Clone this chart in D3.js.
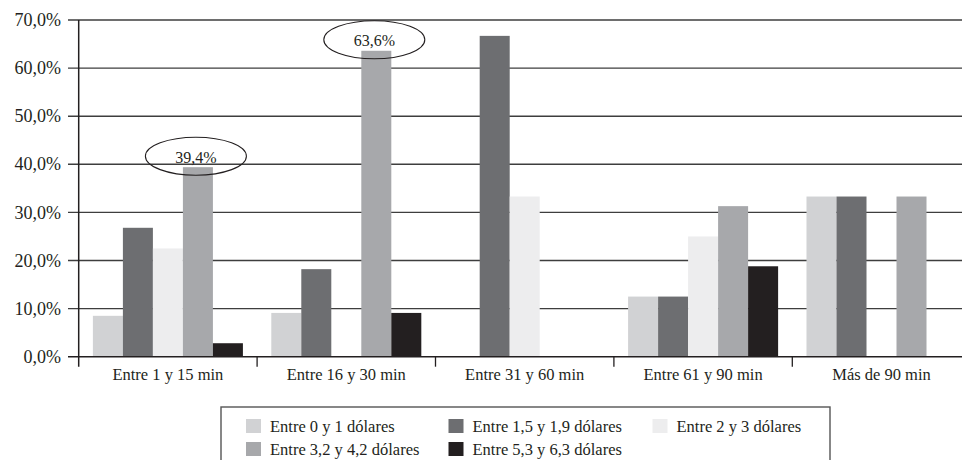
<!DOCTYPE html>
<html>
<head>
<meta charset="utf-8">
<script src="https://cdn.jsdelivr.net/npm/d3@7"></script>
<style>
  html, body { margin: 0; padding: 0; background: #fff; }
  svg { display: block; }
  svg text { font-family: 'Liberation Serif', 'DejaVu Serif', 'Times New Roman', serif; }
</style>
</head>
<body>
<svg id="chart" width="962" height="460" font-family="'Liberation Serif', 'DejaVu Serif', serif"></svg>
<script>
// Travel-time groups (x axis)
const categories = ["Entre 1 y 15 min", "Entre 16 y 30 min", "Entre 31 y 60 min", "Entre 61 y 90 min", "Más de 90 min"];
// Fare groups (series)
const seriesNames = ["Entre 0 y 1 dólares", "Entre 1,5 y 1,9 dólares", "Entre 2 y 3 dólares", "Entre 3,2 y 4,2 dólares", "Entre 5,3 y 6,3 dólares"];
const seriesColors = ["#d1d2d4", "#6d6e71", "#ededee", "#a7a8ab", "#231f20"];
// Percentages per fare group, one value per travel-time group
const fare0to1   = [8.5, 9.1, 0, 12.5, 33.3];
const fare15to19 = [26.8, 18.2, 66.7, 12.5, 33.3];
const fare2to3   = [22.5, 0, 33.3, 25.0, 0];
const fare32to42 = [39.4, 63.6, 0, 31.3, 33.3];
const fare53to63 = [2.8, 9.1, 0, 18.8, 0];
const seriesValues = [fare0to1, fare15to19, fare2to3, fare32to42, fare53to63];
// Y axis ticks
const yTicks = [0, 10, 20, 30, 40, 50, 60, 70];
// Highlighted bars: [category index, series index]
const highlights = [[0, 3], [1, 3]];

const FONT = "'Liberation Serif', 'DejaVu Serif', serif";
const fmt = v => d3.format(".1f")(v).replace(".", ",") + "%";

const svg = d3.select("#chart");
const x0 = d3.scaleBand().domain(categories).range([78.7, 970.7]).paddingInner(0).paddingOuter(0);
const x1 = d3.scaleBand().domain(seriesNames).range([0, x0.bandwidth()]).paddingInner(0).paddingOuter(0.473);
const y = d3.scaleLinear().domain([0, 70]).range([356.7, 20]);

// Horizontal gridlines
svg.append("g").selectAll("line").data(yTicks.filter(t => t > 0)).join("line")
  .attr("x1", 68).attr("x2", 962)
  .attr("y1", d => y(d)).attr("y2", d => y(d))
  .attr("stroke", "#3e3e3e").attr("stroke-width", 1.4);

// Y tick labels
svg.append("g").selectAll("text").data(yTicks).join("text")
  .attr("x", 61).attr("y", d => y(d)).attr("dy", "0.34em")
  .attr("text-anchor", "end").attr("font-size", 18).attr("font-family", FONT).attr("fill", "#231f20")
  .text(d => fmt(d));

// Bars
const groups = svg.append("g").selectAll("g").data(categories).join("g")
  .attr("transform", c => `translate(${x0(c)},0)`);
groups.selectAll("rect")
  .data((c, ci) => seriesNames.map((s, si) => ({ s, si, v: seriesValues[si][ci] })))
  .join("rect")
  .attr("x", d => x1(d.s)).attr("width", x1.bandwidth())
  .attr("y", d => y(d.v)).attr("height", d => y(0) - y(d.v))
  .attr("fill", d => seriesColors[d.si]);

// Baseline and left axis
svg.append("line").attr("x1", 68).attr("x2", 962).attr("y1", y(0)).attr("y2", y(0))
  .attr("stroke", "#231f20").attr("stroke-width", 1.5);
svg.append("line").attr("x1", 78.7).attr("x2", 78.7).attr("y1", y(70)).attr("y2", y(0) + 10)
  .attr("stroke", "#231f20").attr("stroke-width", 1.5);
// Category separators below the baseline
svg.append("g").selectAll("line").data(categories.slice(1)).join("line")
  .attr("x1", c => x0(c)).attr("x2", c => x0(c))
  .attr("y1", y(0)).attr("y2", y(0) + 10)
  .attr("stroke", "#231f20").attr("stroke-width", 1.3);

// Category labels
svg.append("g").selectAll("text").data(categories).join("text")
  .attr("x", c => x0(c) + x0.bandwidth() / 2).attr("y", 380)
  .attr("text-anchor", "middle").attr("font-size", 16.5).attr("font-family", FONT).attr("fill", "#231f20")
  .text(c => c);

// Ellipse callouts on highlighted bars
const callouts = svg.append("g").selectAll("g").data(highlights).join("g")
  .attr("transform", ([ci, si]) => {
    const cx = x0(categories[ci]) + x1(seriesNames[si]) + x1.bandwidth() / 2 - 2;
    const cy = y(seriesValues[si][ci]) - 11;
    return `translate(${cx},${cy})`;
  });
callouts.append("ellipse").attr("rx", 50.5).attr("ry", 19)
  .attr("fill", "none").attr("stroke", "#231f20").attr("stroke-width", 1.1);
callouts.append("text").attr("y", 1).attr("dy", "0.34em").attr("text-anchor", "middle")
  .attr("font-size", 16).attr("font-family", FONT).attr("fill", "#231f20")
  .text(([ci, si]) => fmt(seriesValues[si][ci]));

// Legend
const legend = svg.append("g");
legend.append("rect").attr("x", 221).attr("y", 407).attr("width", 609).attr("height", 70)
  .attr("fill", "#fff").attr("stroke", "#555").attr("stroke-width", 1.4);
const colX = [246, 448.5, 652.5];
const rowY = [426, 449];
const items = legend.selectAll("g").data(seriesNames).join("g")
  .attr("transform", (d, i) => `translate(${colX[i % 3]},${rowY[Math.floor(i / 3)]})`);
items.append("rect").attr("x", 0).attr("y", -7).attr("width", 15).attr("height", 14)
  .attr("fill", (d, i) => seriesColors[i]);
items.append("text").attr("x", 24).attr("dy", "0.34em").attr("font-size", 16.5).attr("font-family", FONT)
  .attr("fill", "#231f20").text(d => d);
</script>
</body>
</html>
